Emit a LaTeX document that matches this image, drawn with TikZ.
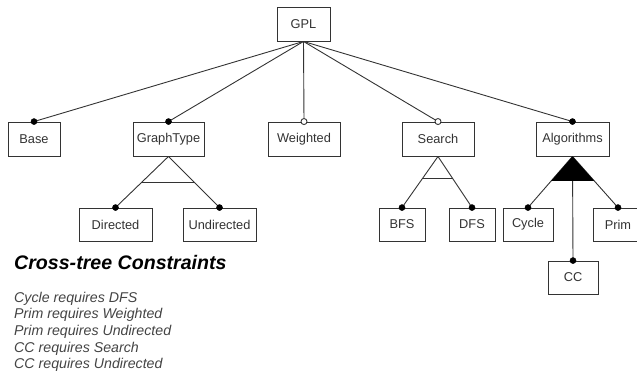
\documentclass[tikz,border=0pt]{standalone}
\usepackage{fontspec}
\setmainfont{Liberation Sans}
\usetikzlibrary{calc}
\definecolor{ln}{HTML}{333333}
\definecolor{tx}{HTML}{333333}
\definecolor{ct}{HTML}{444444}
\tikzset{
  feat/.style={draw=ln, line width=0.9pt, fill=white, rectangle, minimum height=34pt, inner sep=0pt, text=tx, font=\fontsize{12.8}{14}\selectfont},
  conn/.style={draw=ln, line width=0.9pt},
  mand/.style={fill=black, draw=black, line width=0.5pt},
  opt/.style={fill=white, draw=ln, line width=0.9pt},
  cons/.style={anchor=base west, inner sep=0pt, text=ct, font=\fontsize{14.2}{16.7}\selectfont\itshape},
}
\begin{document}
\begin{tikzpicture}[x=1pt,y=-1pt]
\useasboundingbox (0,0) rectangle (637,377);
\clip (0,0) rectangle (637,377);
% nodes
\node[feat, minimum width=53pt] (gpl) at (303.5,24) {GPL};
\node[feat, minimum width=52pt] (base) at (34,139) {Base};
\node[feat, minimum width=71pt] (gt) at (168.5,139) {GraphType};
\node[feat, minimum width=72pt] (wt) at (304,139) {Weighted};
\node[feat, minimum width=72pt] (search) at (438,139) {Search};
\node[feat, minimum width=73pt] (alg) at (572.5,139) {Algorithms};
\node[feat, minimum width=73pt, minimum height=33pt] (dir) at (115.5,224.5) {Directed};
\node[feat, minimum width=73pt, minimum height=33pt] (und) at (219.5,224.5) {Undirected};
\node[feat, minimum width=46pt, minimum height=33pt] (bfs) at (402,224.5) {BFS};
\node[feat, minimum width=46pt, minimum height=33pt] (dfs) at (472,224.5) {DFS};
\node[feat, minimum width=50pt, minimum height=33pt] (cycle) at (528,224.5) {Cycle};
\node[feat, minimum width=50pt, minimum height=33pt] (prim) at (618,224.5) {Prim};
\node[feat, minimum width=50pt, minimum height=33pt] (cc) at (573,277.5) {CC};
% root edges
\foreach \c in {base,gt,wt,search,alg}{
  \draw[conn] (gpl.south) -- (\c.north);
}
% group: GraphType (alternative)
\draw[conn] (gt.south) -- (dir.north);
\draw[conn] (gt.south) -- (und.north);
\draw[conn] ($(gt.south)!0.5!(dir.north)$) -- ($(gt.south)!0.5!(und.north)$);
% group: Search (alternative)
\draw[conn] (search.south) -- (bfs.north);
\draw[conn] (search.south) -- (dfs.north);
\draw[conn] ($(search.south)!0.44!(bfs.north)$) -- ($(search.south)!0.44!(dfs.north)$);
% group: Algorithms (or)
\draw[conn] (alg.south) -- (cycle.north);
\draw[conn] (alg.south) -- (prim.north);
\draw[conn] (alg.south) -- (cc.north);
\fill[black] (alg.south) -- ($(alg.south)!0.48!(cycle.north)$) -- ($(alg.south)!0.48!(prim.north)$) -- cycle;
% end markers
\foreach \c in {base,gt,alg,dir,und,bfs,dfs,cycle,prim,cc}{
  \filldraw[mand] (\c.north) circle (3pt);
}
\foreach \c in {wt,search}{
  \filldraw[opt] (\c.north) circle (3pt);
}
% cross-tree constraints
\node[anchor=base west, inner sep=0pt, text=black, font=\fontsize{19.6}{22}\selectfont\bfseries\itshape] (title) at (14,269.3) {Cross-tree Constraints};
\node[cons] (c1) at (14,302) {Cycle requires DFS};
\node[cons] (c2) at (14,318.7) {Prim requires Weighted};
\node[cons] (c3) at (14,335.4) {Prim requires Undirected};
\node[cons] (c4) at (14,352) {CC requires Search};
\node[cons] (c5) at (14,368.8) {CC requires Undirected};
\end{tikzpicture}
\end{document}
